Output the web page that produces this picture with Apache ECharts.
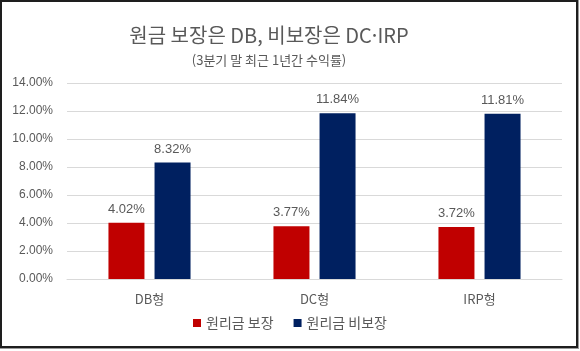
<!DOCTYPE html>
<html lang="ko">
<head>
    <meta charset="UTF-8">
    <style>
        html, body { margin: 0; padding: 0; background: #fff; }
        .frame {
            position: absolute;
            left: 0; top: 0;
            width: 574px; height: 344px;
            border: 2px solid #1e1e1e;
            outline: 1px solid #9a9a9a;
        }
        #main { position: absolute; left: 0; top: 0; width: 580px; height: 351px; }
    </style>
    <title>Document</title>
</head>
<body>
    <div id="main"></div>
    <div class="frame"></div>

    <script src="https://cdn.jsdelivr.net/npm/echarts@6/dist/echarts.min.js"></script>
    <script>
        var categories = ['DB형', 'DC형', 'IRP형'];
        var guaranteed = [4.02, 3.77, 3.72];
        var nonGuaranteed = [8.32, 11.84, 11.81];
        var seriesNames = ['원리금 보장', '원리금 비보장'];

        var font = '"Noto Sans CJK KR", "Noto Sans", sans-serif';
        var numFont = 'Arial, "Liberation Sans", sans-serif';
        var grey = '#595959';

        function pct(v) { return v.toFixed(2) + '%'; }

        var barLabel = {
            show: true, position: 'top', distance: 7,
            color: grey, fontSize: 13, fontFamily: numFont,
            formatter: function (p) { return pct(p.value); }
        };

        var option = {
            animation: false,
            textStyle: { fontFamily: font },
            title: [{
                text: '원금 보장은 DB, 비보장은 DC·IRP',
                left: 264, top: 20, textAlign: 'center',
                textStyle: { fontFamily: font, fontSize: 20, fontWeight: 'normal', color: grey }
            }, {
                text: '(3분기 말 최근 1년간 수익률)',
                left: 264, top: 49, textAlign: 'center',
                textStyle: { fontFamily: font, fontSize: 13, fontWeight: 'normal', color: grey }
            }],
            legend: {
                data: seriesNames,
                bottom: 16, left: 'center',
                itemWidth: 8, itemHeight: 8, itemGap: 20,
                icon: 'rect',
                textStyle: { fontFamily: font, fontSize: 14, color: grey }
            },
            grid: { left: 67, right: 18, top: 83, bottom: 72 },
            xAxis: {
                type: 'category',
                data: categories,
                axisTick: { show: false },
                axisLine: { lineStyle: { color: '#d9d9d9' } },
                axisLabel: { color: grey, fontSize: 13, margin: 14, fontFamily: font }
            },
            yAxis: {
                type: 'value',
                min: 0, max: 14, interval: 2,
                axisLabel: {
                    color: grey, fontSize: 12, margin: 14,
                    fontFamily: numFont,
                    formatter: pct
                },
                splitLine: { lineStyle: { color: '#d9d9d9' } }
            },
            series: [{
                name: seriesNames[0],
                type: 'bar',
                data: guaranteed,
                barWidth: 36,
                barGap: '28%',
                itemStyle: { color: '#C00000' },
                label: barLabel
            }, {
                name: seriesNames[1],
                type: 'bar',
                data: nonGuaranteed,
                barWidth: 36,
                itemStyle: { color: '#002060' },
                label: barLabel
            }]
        };

        var myChart = echarts.init(document.getElementById('main'));
        myChart.setOption(option);
    </script>
</body>
</html>
